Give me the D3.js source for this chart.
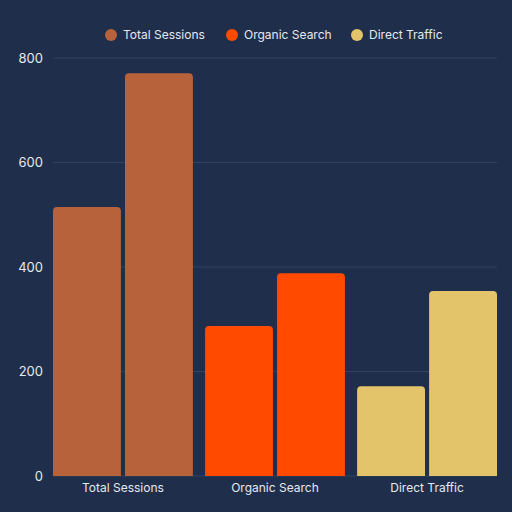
<!DOCTYPE html>
<html>
<head>
<meta charset="utf-8">
<script src="https://cdn.jsdelivr.net/npm/d3@7"></script>
<style>
  html, body { margin: 0; padding: 0; background: #1f2f4b; }
  svg { display: block; font-family: Inter, "Noto Sans", sans-serif; }
</style>
</head>
<body>
<div id="chart"></div>
<script>
// Chart data
const categories = ["Total Sessions", "Organic Search", "Direct Traffic"];
const seriesKeys = ["first", "second"];
const firstValues = [515, 287, 172];
const secondValues = [771, 388, 354];
const categoryColors = ["#b8623c", "#ff4a00", "#e4c46a"];
const yTicks = [0, 200, 400, 600, 800];

const width = 512;
const height = 512;
const margin = { top: 58, right: 15, bottom: 36, left: 53 };
const innerWidth = width - margin.left - margin.right;
const innerHeight = height - margin.top - margin.bottom;

const rows = categories.map((c, i) => ({
  category: c,
  color: categoryColors[i],
  values: [firstValues[i], secondValues[i]],
}));

const svg = d3
  .select("#chart")
  .append("svg")
  .attr("width", width)
  .attr("height", height);

svg.append("rect").attr("width", width).attr("height", height).attr("fill", "#1f2f4b");

const g = svg.append("g").attr("transform", `translate(${margin.left},${margin.top})`);

const x0 = d3
  .scaleBand()
  .domain(categories)
  .range([0, innerWidth])
  .paddingInner(0.08)
  .paddingOuter(0);

const x1 = d3
  .scaleBand()
  .domain(seriesKeys)
  .range([0, x0.bandwidth()])
  .paddingInner(0.057);

const y = d3.scaleLinear().domain([0, 800]).range([innerHeight, 0]);

// Gridlines
g.selectAll(".grid")
  .data(yTicks)
  .enter()
  .append("line")
  .attr("class", "grid")
  .attr("x1", 0)
  .attr("x2", innerWidth)
  .attr("y1", (d) => y(d))
  .attr("y2", (d) => y(d))
  .attr("stroke", "#31425e")
  .attr("stroke-width", 1);

// Y tick labels
g.selectAll(".ytick")
  .data(yTicks)
  .enter()
  .append("text")
  .attr("class", "ytick")
  .attr("x", -10)
  .attr("y", (d) => y(d))
  .attr("dy", "0.35em")
  .attr("text-anchor", "end")
  .attr("fill", "#e6e8ee")
  .attr("font-size", 13)
  .text((d) => d);

// Bar with rounded top corners
function barPath(x, yTop, w, h, r) {
  r = Math.min(r, h, w / 2);
  return `M${x},${yTop + h}
    L${x},${yTop + r}
    Q${x},${yTop} ${x + r},${yTop}
    L${x + w - r},${yTop}
    Q${x + w},${yTop} ${x + w},${yTop + r}
    L${x + w},${yTop + h} Z`;
}

const groups = g
  .selectAll(".cat")
  .data(rows)
  .enter()
  .append("g")
  .attr("class", "cat")
  .attr("transform", (d) => `translate(${x0(d.category)},0)`);

groups
  .selectAll("path")
  .data((d) => d.values.map((v, i) => ({ key: seriesKeys[i], value: v, color: d.color })))
  .enter()
  .append("path")
  .attr("d", (d) => barPath(x1(d.key), y(d.value), x1.bandwidth(), innerHeight - y(d.value), 4))
  .attr("fill", (d) => d.color);

// Category labels
g.selectAll(".xlabel")
  .data(categories)
  .enter()
  .append("text")
  .attr("class", "xlabel")
  .attr("x", (d) => x0(d) + x0.bandwidth() / 2)
  .attr("y", innerHeight + 12)
  .attr("dy", "0.35em")
  .attr("text-anchor", "middle")
  .attr("fill", "#e6e8ee")
  .attr("font-size", 12)
  .text((d) => d);

// Legend
const legendX = [111, 232, 357];
const legend = svg
  .selectAll(".legend")
  .data(categories)
  .enter()
  .append("g")
  .attr("class", "legend")
  .attr("transform", (d, i) => `translate(${legendX[i]},35)`);

legend.append("circle").attr("r", 6).attr("fill", (d, i) => categoryColors[i]);
legend
  .append("text")
  .attr("x", 12)
  .attr("dy", "0.35em")
  .attr("fill", "#e6e8ee")
  .attr("font-size", 12)
  .text((d) => d);
</script>
</body>
</html>
